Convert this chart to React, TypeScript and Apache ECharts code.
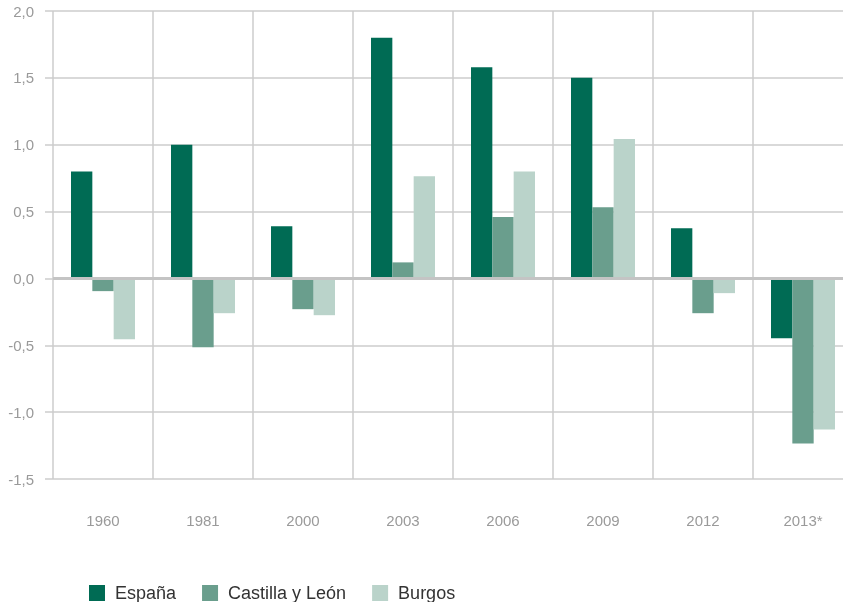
import React, { useEffect, useRef } from "react";
import * as echarts from "echarts";

const categories = ["1960", "1981", "2000", "2003", "2006", "2009", "2012", "2013*"];
const espana = [0.8, 1.0, 0.39, 1.8, 1.58, 1.5, 0.375, -0.447];
const castilla = [-0.095, -0.515, -0.23, 0.12, 0.46, 0.533, -0.26, -1.235];
const burgos = [-0.455, -0.26, -0.275, 0.765, 0.8, 1.043, -0.11, -1.13];
const seriesNames = ["España", "Castilla y León", "Burgos"];
const colors = ["#006B54", "#6A9E8D", "#BAD3CA"];

const FONT = "Arial, 'Liberation Sans', sans-serif";

export default function App() {
  const ref = useRef<HTMLDivElement>(null);
  useEffect(() => {
    if (!ref.current) return;
    const chart = echarts.init(ref.current, undefined, { renderer: "svg" });
    const data = [espana, castilla, burgos];
    chart.setOption({
      animation: false,
      textStyle: { fontFamily: FONT },
      grid: {
        left: 53,
        width: 800,
        top: 11,
        height: 468,
        containLabel: false,
        outerBoundsMode: "none",
      },
      legend: {
        left: 89,
        top: 584,
        itemWidth: 16,
        itemHeight: 16,
        itemGap: 26,
        icon: "rect",
        padding: 0,
        textStyle: { fontSize: 18, lineHeight: 18, color: "#333", fontFamily: FONT, padding: [0, 0, 0, 5] },
        data: seriesNames,
      },
      xAxis: {
        type: "category",
        data: categories,
        boundaryGap: true,
        axisLine: { show: false },
        axisTick: { show: false },
        splitLine: { show: true, lineStyle: { color: "#cccccc", width: 1.5 } },
        axisLabel: { color: "#9a9a9a", fontSize: 15, margin: 34, fontFamily: FONT },
      },
      yAxis: {
        type: "value",
        min: -1.5,
        max: 2.0,
        interval: 0.5,
        axisLine: { show: false },
        axisTick: { show: true, length: 8, lineStyle: { color: "#cccccc", width: 1.5 } },
        splitLine: { show: true, lineStyle: { color: "#cccccc", width: 1.5 } },
        axisLabel: {
          color: "#9a9a9a",
          fontSize: 15,
          margin: 19,
          fontFamily: FONT,
          formatter: (v: number) => v.toFixed(1).replace(".", ","),
        },
      },
      series: seriesNames.map((name, i) => ({
        name,
        type: "bar",
        data: data[i],
        barGap: "0%",
        barCategoryGap: "36%",
        itemStyle: { color: colors[i] },
        ...(i === 0
          ? {
              markLine: {
                silent: true,
                symbol: "none",
                label: { show: false },
                lineStyle: { color: "#c4c4c4", width: 3, type: "solid" },
                data: [{ yAxis: 0 }],
              },
            }
          : {}),
      })),
    });
    return () => chart.dispose();
  }, []);
  return <div ref={ref} style={{ width: 843, height: 602, position: "fixed", left: 0, top: 0 }} />;
}
